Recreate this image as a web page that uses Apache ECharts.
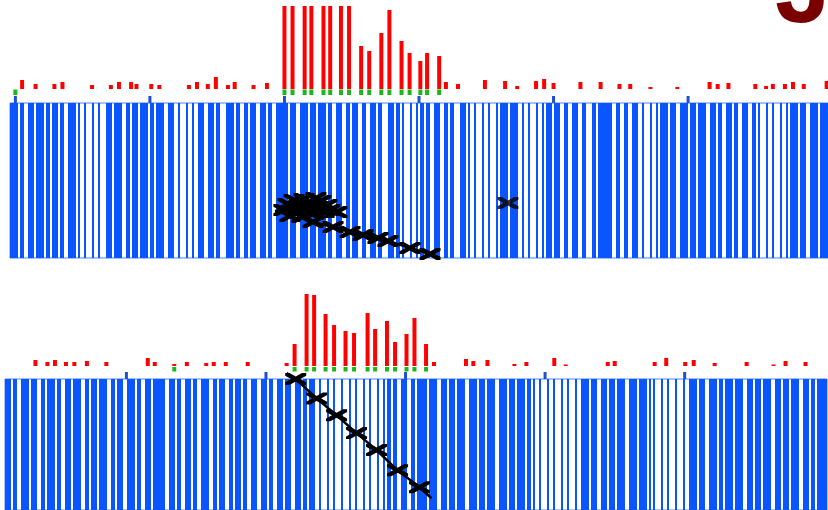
<!DOCTYPE html>
<html><head><meta charset="utf-8">
<script src="https://cdn.jsdelivr.net/npm/echarts@6/dist/echarts.min.js"></script>
<style>html,body{margin:0;padding:0;background:#fff}#c{width:828px;height:510px}</style>
</head><body><div id="c"></div>
<script>
// ---------- data ----------
const panelLabel = 'J';

// top panel (positions in track units, heights in counts)
const topTickPos = [0, 100, 200, 300, 400, 500];
const topRedPos = [5, 15, 29, 35, 57, 71, 77, 86, 90, 101, 107, 129, 135, 143, 149, 158, 163, 177, 187,
  200, 206, 215, 220, 229, 234, 242, 248, 257, 263, 272, 278, 287, 293, 301, 306, 315, 320, 329,
  349, 364, 373, 387, 393, 400, 420, 435, 449, 457, 472, 492, 516, 522, 530, 550, 558, 563, 572, 578, 586, 603];
const topRedVal = [9, 5, 5, 7, 4, 4, 7, 7, 5, 5, 4, 4, 7, 5, 12, 4, 7, 4, 6,
  130, 125, 140, 120, 135, 128, 132, 122, 43, 38, 56, 79, 48, 36, 28, 36, 33, 7, 5,
  9, 8, 3, 8, 10, 6, 7, 7, 5, 5, 2, 2, 7, 5, 6, 5, 3, 5, 5, 7, 5, 8];
const topGreenPos = [0, 200, 206, 215, 220, 229, 234, 242, 248, 257, 263, 272, 278, 287, 293, 301, 306, 315];
// one character per 2 px slot: 1 = filled stripe, 0 = empty
const topStripes =
  '11110110011101111011011101100111101' +
  '0010001001000' +
  '11101111001101110111101101111001110' +
  '010001001001' +
  '1100111011000111101100110111001110110011' +
  '1111011100111101110111101' +
  '10011100110111001100111011000111011' +
  '0100010010' +
  '1101100111001101100011101' +
  '001000100100010' +
  '1111011110' +
  '0100100010010' +
  '1110111' +
  '00110011100110001101' +
  '111111' +
  '00110011001110' +
  '0100010010' +
  '111101110011110111011110011101' +
  '10011101100111001101' +
  '000100100010010' +
  '1111011100111101111';
const topTrackPos   = [192.9, 199.6, 202.6, 204.1, 207.1, 208.6, 210.8, 213.0, 214.5, 216.7, 219.0, 221.2, 223.4,
  225.0, 227.1, 229.4, 231.6, 233.8, 239.0,
  221.2, 236.1, 248.7, 258.4, 269.5, 276.9, 293.3, 308.2, 315.6];
const topTrackDepth = [69.7, 69.0, 65.2, 72.9, 62.6, 69.7, 66.5, 73.5, 61.9, 68.4, 64.5, 71.6, 61.3,
  67.1, 63.2, 70.3, 65.8, 69.0, 70.3,
  76.8, 80.0, 83.2, 85.2, 87.1, 89.0, 93.5, 97.4, 100];
const topTrackMark  = [0, 1, 1, 1, 1, 1, 1, 1, 1, 1, 1, 1, 1, 1, 1, 1, 1, 1, 1, 1, 1, 1, 1, 1, 1, 1, 1, 0];
const topLonePos = [366.1];
const topLoneDepth = [64.5];

// bottom panel
const botTickPos = [100, 200, 300, 400, 500];
const botRedPos = [34.8, 43.4, 48.8, 56.7, 62.7, 71.7, 85.6, 115.3, 120.3, 134.3, 143.3, 157.2, 162.6, 171.2, 186.9,
  214.8, 220.5, 229.1, 234.5, 242.7, 248.8, 257, 263.1, 272.8, 278.2, 286.7, 292.5, 300.7, 306.4, 314.7, 320.4,
  343.3, 348.6, 358.7, 378, 386.6, 406.6, 414.8, 444.9, 449.9, 478.5, 486.8, 500.4, 506.5, 521.5, 544.4, 563.7, 572.3, 586.6];
const botRedVal = [6, 4, 6, 4, 4, 5, 4, 8, 4, 2, 4, 3, 4, 4, 4,
  3, 22, 72, 71, 52, 41, 35, 33, 53, 37, 45, 24, 32, 48, 22, 4,
  7, 5, 6, 2, 4, 8, 1.5, 4, 5, 4, 8, 4, 6, 3, 4, 1.5, 5, 4];
const botGreenPos = [134.3, 220.5, 229.1, 234.5, 242.7, 248.8, 257, 263.1, 272.8, 278.2, 286.7, 292.5, 300.7, 306.4, 314.7];
const botStripes =
  '1110110011' + '1101110011' + '0111101100' + '1110111100' + '1101110111' + '1001101110' + '0111101100' + '11101111' +
  '1100111011' + '0011101100' + '1111001101' + '1100110111' + '0110011100' + '1110110011' + '1011100111' + '01101110' +
  '0100010010' + '0010001001' + '0001001000' + '10010' +
  '1101100111' + '0011011' +
  '1110111100' + '1110111011' + '1100111101' + '1101111001' + '1110111011' + '11011' +
  '0100100010' + '0100010010' + '00100' +
  '1111011100' + '1110111011' + '1100111101' + '11101' +
  '0100010010' + '0010001001' +
  '1110111001' + '1110110111' + '1011110011' + '1011101111' + '0011101110' + '1111001110' + '11011111';
const botTrackPos   = [214.8, 221.3, 236.3, 250.6, 264.9, 279.2, 294.3, 310.0, 318.6];
const botTrackDepth = [-4.5, 0, 14.8, 27.7, 41.3, 54.2, 69.7, 82.6, 91];
const botTrackMark  = [0, 1, 1, 1, 1, 1, 1, 1, 0];

// ---------- chart ----------
const RED = '#ff0000', GREEN = '#1cb51c', BLUE = '#0a55ff', TICK = '#1d4fd4', BORDER = '#4d86ff';
const XSYM = 'path://M0,0L4,0L20,9.3L20,12L16,12L0,2.7Z M16,0L20,0L20,2.7L4,12L0,12L0,9.3Z';

const grids = [
  {left: 10, width: 818, top: 6, height: 83},
  {left: 10, width: 818, top: 89.5, height: 5.5},
  {left: 10, width: 818, top: 96, height: 7},
  {left: 10, width: 818, top: 103, height: 155, show: true, borderColor: BORDER, borderWidth: 1, backgroundColor: 'transparent'},
  {left: 5, width: 822, top: 283, height: 83},
  {left: 5, width: 822, top: 367, height: 4.5},
  {left: 5, width: 822, top: 372, height: 7},
  {left: 5, width: 822, top: 379, height: 155, show: true, borderColor: BORDER, borderWidth: 1, backgroundColor: 'transparent'}
];
const hid = {show: false};
function vx(g, min, max) { return {type: 'value', gridIndex: g, min, max, show: false, splitLine: hid}; }
function cx(g, n) { return {type: 'category', gridIndex: g, data: Array.from({length: n}, (_, i) => i), show: false, boundaryGap: true}; }
function vy(g, min, max, inv) { return {type: 'value', gridIndex: g, min, max, inverse: !!inv, show: false, splitLine: hid}; }

const xAxes = [
  vx(0, -4, 604), vx(1, -4, 604), vx(2, -4, 604), cx(3, topStripes.length), vx(3, -4, 604),
  vx(4, 13, 602), vx(5, 13, 602), vx(6, 13, 602), cx(7, botStripes.length), vx(7, 13, 602)
];
const yAxes = [
  vy(0, 0, 83), vy(1, 0, 1), vy(2, 0, 1), vy(3, 0, 1), vy(3, 0, 100, true),
  vy(4, 0, 83), vy(5, 0, 1), vy(6, 0, 1), vy(7, 0, 1), vy(7, 0, 100, true)
];

function zip(a, b) { return a.map((v, i) => [v, b[i]]); }
function ones(a) { return a.map(v => [v, 1]); }
function stripeData(s) { return s.split('').map(c => c === '1' ? 1 : '-'); }
function track(p, d, m) {
  return p.map((v, i) => ({value: [v, d[i]], symbol: m[i] ? XSYM : 'none'}));
}
function bar(xi, data, color, w) {
  return {type: 'bar', xAxisIndex: xi, yAxisIndex: xi, data, barWidth: w, itemStyle: {color}, silent: true, clip: true};
}
function stripes(xi, s) {
  return {type: 'bar', xAxisIndex: xi, yAxisIndex: xi, data: stripeData(s), barCategoryGap: '0%', barWidth: '100%',
    itemStyle: {color: BLUE}, silent: true};
}
function line(xi, data) {
  return {type: 'line', xAxisIndex: xi, yAxisIndex: xi, data, symbolSize: [21, 12], showAllSymbol: true,
    itemStyle: {color: '#000'}, lineStyle: {color: '#000', width: 2.5}, clip: false, silent: true, z: 5};
}

const option = {
  animation: false,
  backgroundColor: '#ffffff',
  grid: grids,
  xAxis: xAxes,
  yAxis: yAxes,
  series: [
    bar(0, zip(topRedPos, topRedVal), RED, 4),
    bar(1, ones(topGreenPos), GREEN, 4),
    bar(2, ones(topTickPos), TICK, 3),
    stripes(3, topStripes),
    line(4, track(topTrackPos, topTrackDepth, topTrackMark)),
    {type: 'scatter', xAxisIndex: 4, yAxisIndex: 4, data: zip(topLonePos, topLoneDepth), symbol: XSYM,
      symbolSize: [21, 12], itemStyle: {color: '#000'}, z: 5, silent: true},
    bar(5, zip(botRedPos, botRedVal), RED, 4),
    bar(6, ones(botGreenPos), GREEN, 4),
    bar(7, ones(botTickPos), TICK, 3),
    stripes(8, botStripes),
    line(9, track(botTrackPos, botTrackDepth, botTrackMark))
  ],
  graphic: [{
    type: 'text', left: 775, top: -56, silent: true,
    style: {text: panelLabel, fill: '#7a0000', font: 'bold 100px "Liberation Sans", Arial, sans-serif'}
  }]
};
const chart = echarts.init(document.getElementById('c'), null, {renderer: 'canvas'});
chart.setOption(option);
</script></body></html>
